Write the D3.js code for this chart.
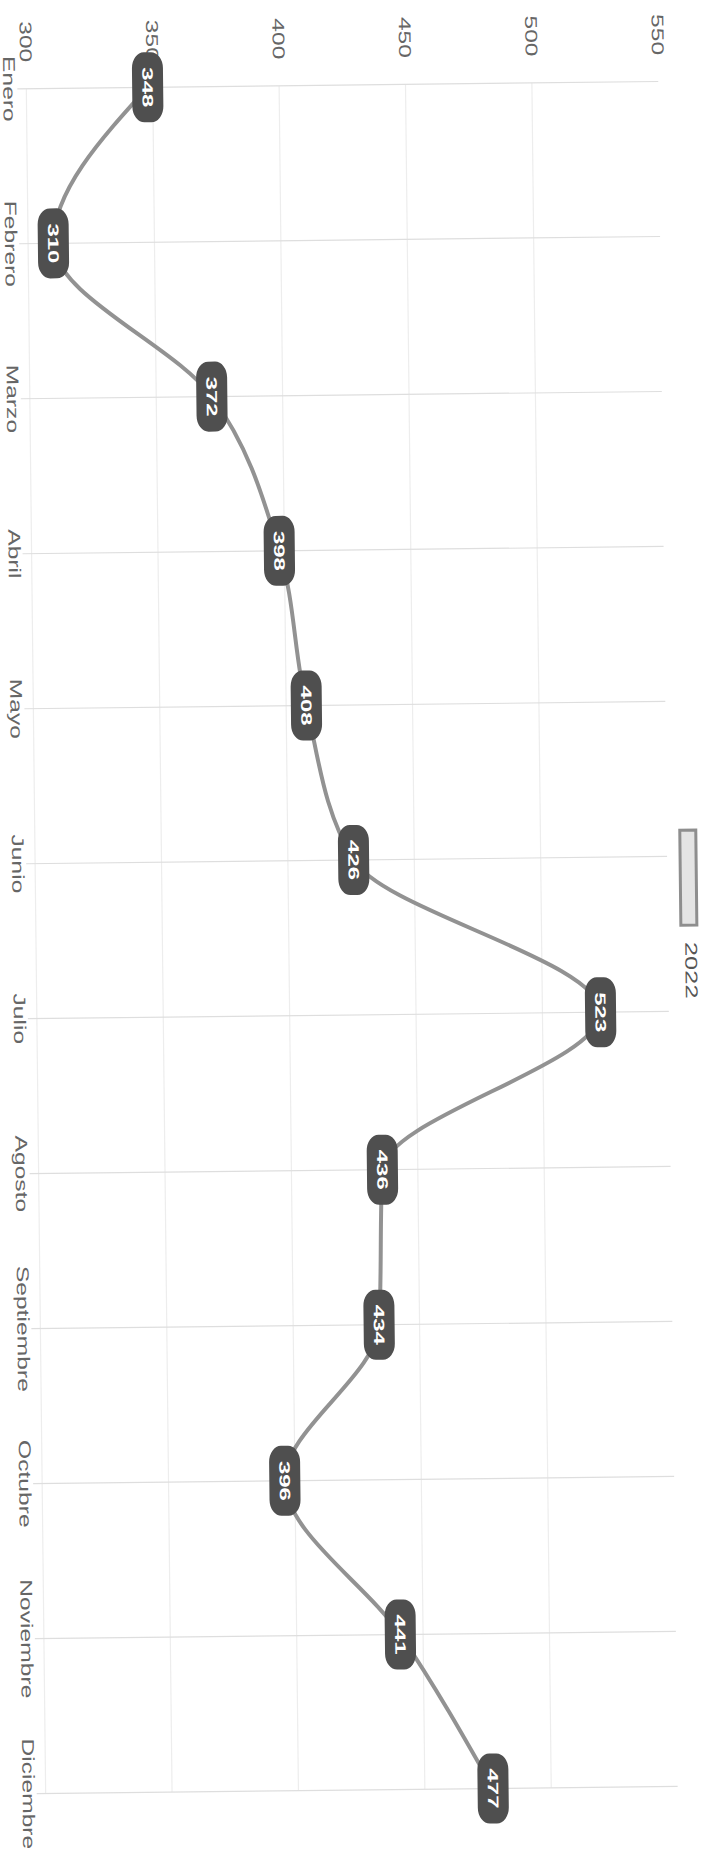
<!DOCTYPE html>
<html>
<head>
<meta charset="utf-8">
<script src="https://cdn.jsdelivr.net/npm/d3@7"></script>
<style>
  body { margin: 0; background: #fff; }
  text { font-family: "Liberation Sans", Arial, sans-serif; }
</style>
</head>
<body>
<div id="chart"></div>
<script>
//data
var months = ["Enero", "Febrero", "Marzo", "Abril", "Mayo", "Junio", "Julio",
  "Agosto", "Septiembre", "Octubre", "Noviembre", "Diciembre"];
var values2022 = [348, 310, 372, 398, 408, 426, 523, 436, 434, 396, 441, 477];
var valueTicks = [300, 350, 400, 450, 500, 550];
var seriesName = "2022";

//page size
var width = 710, height = 1855;

var svg = d3.select('#chart')
  .append('svg')
  .attr('width', width)
  .attr('height', height);

svg.append('rect')
  .attr('width', width)
  .attr('height', height)
  .style('fill', '#fff');

//chart is drawn sideways (values to the right, months downward), slightly tilted like the scan
var g = svg.append('g')
  .attr('transform', 'rotate(-0.65,355,940)');

//scales
var x = d3.scaleLinear()
  .domain([300, 550])
  .range([36, 668]);

var y = d3.scalePoint()
  .domain(months)
  .range([85, 1790]);

//stretched sideways text
var stretch = function(sx) {
  return function(d) { return 'translate(' + d.x + ',' + d.y + ') rotate(90) scale(' + sx + ',1)'; };
};

//value gridlines
g.selectAll('.vgrid')
  .data(valueTicks.slice(0, -1))
  .enter()
  .append('line')
  .attr('x1', function(d) { return x(d); })
  .attr('x2', function(d) { return x(d); })
  .attr('y1', y(months[0]))
  .attr('y2', y(months[months.length - 1]))
  .style('stroke', '#ededed')
  .style('stroke-width', 1.2);

//month gridlines
g.selectAll('.hgrid')
  .data(months)
  .enter()
  .append('line')
  .attr('x1', x(300) - 9)
  .attr('x2', x(550))
  .attr('y1', function(d) { return y(d); })
  .attr('y2', function(d) { return y(d); })
  .style('stroke', '#dedede')
  .style('stroke-width', 1.2);

//value tick labels (top)
g.selectAll('.vlab')
  .data(valueTicks.map(function(v) { return {x: x(v), y: 38, t: v}; }))
  .enter()
  .append('text')
  .attr('transform', stretch(1.45))
  .attr('text-anchor', 'middle')
  .attr('dominant-baseline', 'central')
  .style('font-size', '17px')
  .style('fill', '#666')
  .text(function(d) { return d.t; });

//month labels (left)
g.selectAll('.mlab')
  .data(months.map(function(m) { return {x: 19, y: y(m), t: m}; }))
  .enter()
  .append('text')
  .attr('transform', stretch(1.45))
  .attr('text-anchor', 'middle')
  .attr('dominant-baseline', 'central')
  .style('font-size', '17px')
  .style('fill', '#666')
  .text(function(d) { return d.t; });

//line
var line = d3.line()
  .x(function(d, i) { return x(d); })
  .y(function(d, i) { return y(months[i]); })
  .curve(d3.curveMonotoneY);

g.append('path')
  .datum(values2022)
  .attr('d', line)
  .style('fill', 'none')
  .style('stroke', '#929292')
  .style('stroke-width', 4);

//value boxes
var pts = values2022.map(function(v, i) { return {x: x(v), y: y(months[i]), t: v}; });

g.selectAll('.box')
  .data(pts)
  .enter()
  .append('rect')
  .attr('x', function(d) { return d.x - 15.5; })
  .attr('y', function(d) { return d.y - 35; })
  .attr('width', 31)
  .attr('height', 70)
  .attr('rx', 12)
  .attr('ry', 16)
  .style('fill', '#4f4f4f');

g.selectAll('.boxlab')
  .data(pts)
  .enter()
  .append('text')
  .attr('transform', stretch(1.6))
  .attr('text-anchor', 'middle')
  .attr('dominant-baseline', 'central')
  .style('font-size', '15px')
  .style('font-weight', 'bold')
  .style('fill', '#fff')
  .text(function(d) { return d.t; });

//legend
var legendY = 834;
g.append('rect')
  .attr('x', 681)
  .attr('y', legendY)
  .attr('width', 16)
  .attr('height', 95)
  .style('fill', '#e4e4e4')
  .style('stroke', '#8e8e8e')
  .style('stroke-width', 3);

g.selectAll('.leg')
  .data([{x: 691, y: legendY + 140, t: seriesName}])
  .enter()
  .append('text')
  .attr('transform', stretch(1.5))
  .attr('text-anchor', 'middle')
  .attr('dominant-baseline', 'central')
  .style('font-size', '17px')
  .style('fill', '#555')
  .text(function(d) { return d.t; });
</script>
</body>
</html>
